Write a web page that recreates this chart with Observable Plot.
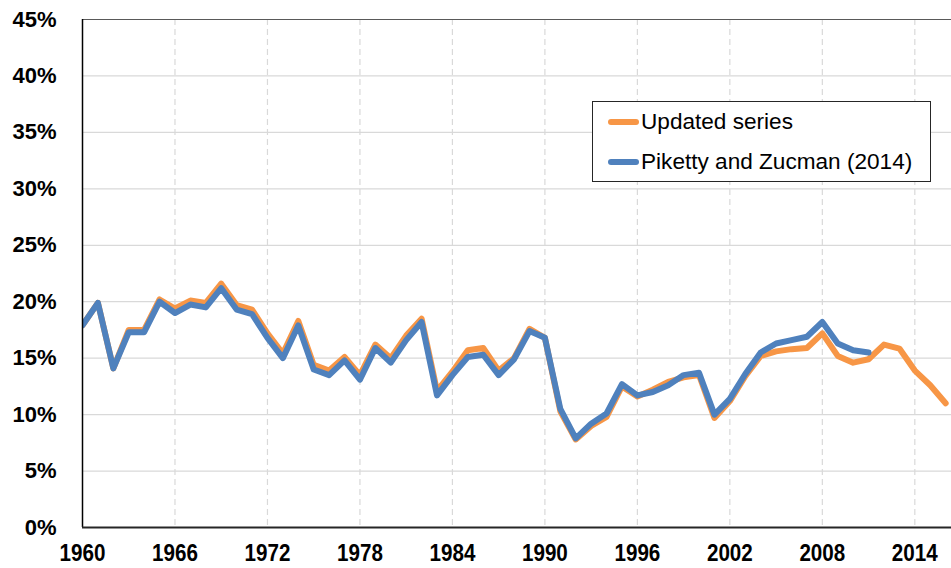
<!DOCTYPE html>
<html>
<head>
<meta charset="utf-8">
<script src="https://cdn.jsdelivr.net/npm/d3@7"></script>
<script src="https://cdn.jsdelivr.net/npm/@observablehq/plot@0.6"></script>
<style>
  html, body { margin: 0; padding: 0; background: #fff; }
  #wrap { position: relative; width: 951px; height: 568px; overflow: hidden; }
  #legend {
    position: absolute; left: 592px; top: 101px; width: 339px; height: 81px;
    border: 1.3px solid #262626; background: #fff; box-sizing: border-box;
    font-family: "Liberation Sans", Arial, sans-serif; font-size: 22.6px; color: #000;
  }
  .item { position: absolute; left: 15px; display: flex; align-items: center; }
  .swatch { width: 31px; height: 6px; border-radius: 3px; margin-right: 2px; }
</style>
</head>
<body>
<div id="wrap">
  <div id="chart"></div>
  <div id="legend">
    <div class="item" style="top:7px"><span class="swatch" style="background:#F79646"></span><span id="l1"></span></div>
    <div class="item" style="top:47px"><span class="swatch" style="background:#4F81BD"></span><span id="l2"></span></div>
  </div>
</div>
<script>
const seriesNames = ["Updated series", "Piketty and Zucman (2014)"];
const seriesColors = ["#F79646", "#4F81BD"];

const yearsUpdated = d3.range(1960, 2017);
const updatedValues = [
  17.9, 19.9, 14.1, 17.5, 17.5, 20.2, 19.4, 20.1, 19.9, 21.6,
  19.7, 19.3, 17.2, 15.4, 18.3, 14.4, 13.9, 15.1, 13.5, 16.2,
  15.0, 17.0, 18.5, 12.1, 13.8, 15.7, 15.9, 13.9, 15.0, 17.6,
  16.8, 10.3, 7.8, 9.0, 9.8, 12.5, 11.6, 12.2, 12.9, 13.3,
  13.5, 9.7, 11.2, 13.4, 15.2, 15.6, 15.8, 15.9, 17.2, 15.2,
  14.6, 14.9, 16.2, 15.85, 13.9, 12.6, 11.0
];

const yearsPZ = d3.range(1960, 2012);
const pzValues = [
  17.9, 19.9, 14.1, 17.3, 17.3, 20.0, 19.0, 19.75, 19.5, 21.2,
  19.3, 18.9, 16.8, 15.0, 17.9, 14.0, 13.5, 14.8, 13.1, 15.9,
  14.6, 16.6, 18.2, 11.7, 13.5, 15.1, 15.3, 13.5, 14.9, 17.4,
  16.8, 10.5, 7.9, 9.2, 10.1, 12.7, 11.7, 12.0, 12.6, 13.5,
  13.7, 10.0, 11.4, 13.6, 15.5, 16.3, 16.6, 16.9, 18.2, 16.3,
  15.7, 15.5
];

const xTicks = [1960, 1966, 1972, 1978, 1984, 1990, 1996, 2002, 2008, 2014];
const yTicks = [0, 5, 10, 15, 20, 25, 30, 35, 40, 45];

const updated = yearsUpdated.map((year, i) => ({year, value: updatedValues[i]}));
const pz = yearsPZ.map((year, i) => ({year, value: pzValues[i]}));

document.getElementById("l1").textContent = seriesNames[0];
document.getElementById("l2").textContent = seriesNames[1];

const chart = Plot.plot({
  width: 951,
  height: 568,
  marginLeft: 82,
  marginRight: 0,
  marginTop: 19,
  marginBottom: 41,
  style: {background: "#fff", overflow: "visible"},
  x: {domain: [1960, 2016.38]},
  y: {domain: [0, 45]},
  marks: [
    Plot.ruleY(yTicks.filter(d => d > 0 && d < 45), {stroke: "#d9d9d9", strokeWidth: 1.2}),
    Plot.ruleX(xTicks.filter(d => d > 1960), {stroke: "#d9d9d9", strokeWidth: 1.2, strokeDasharray: "6,4"}),
    Plot.ruleY([45], {stroke: "#595959", strokeWidth: 1.2}),
    Plot.line(updated, {x: "year", y: "value", stroke: seriesColors[0], strokeWidth: 6, strokeLinejoin: "round", strokeLinecap: "round", clip: true}),
    Plot.line(pz, {x: "year", y: "value", stroke: seriesColors[1], strokeWidth: 6, strokeLinejoin: "round", strokeLinecap: "round", clip: true}),
    Plot.ruleX([1960], {stroke: "#000", strokeWidth: 1.5}),
    Plot.ruleY([0], {stroke: "#262626", strokeWidth: 2}),
    Plot.axisY({
      ticks: yTicks, tickSize: 0, tickPadding: 26,
      tickFormat: d => d + "%", label: null,
      fontSize: 22, fontWeight: "bold", fontFamily: "'Liberation Sans', Arial, sans-serif", fill: "#000"
    }),
    Plot.axisX({
      ticks: xTicks, tickSize: 0, tickPadding: 16,
      tickFormat: d => String(d), label: null,
      fontSize: 24, fontWeight: "bold", fontFamily: "'Liberation Sans', Arial, sans-serif", fill: "#000"
    })
  ]
});
document.getElementById("chart").appendChild(chart);
// condense the x tick labels horizontally, as in the reference
const yearLabels = new Set(xTicks.map(String));
d3.select(chart).selectAll("text").each(function() {
  if (!yearLabels.has(this.textContent.trim())) return;
  const t = this.getAttribute("transform") || "";
  this.setAttribute("transform", t + " scale(0.86,1)");
});
</script>
</body>
</html>
